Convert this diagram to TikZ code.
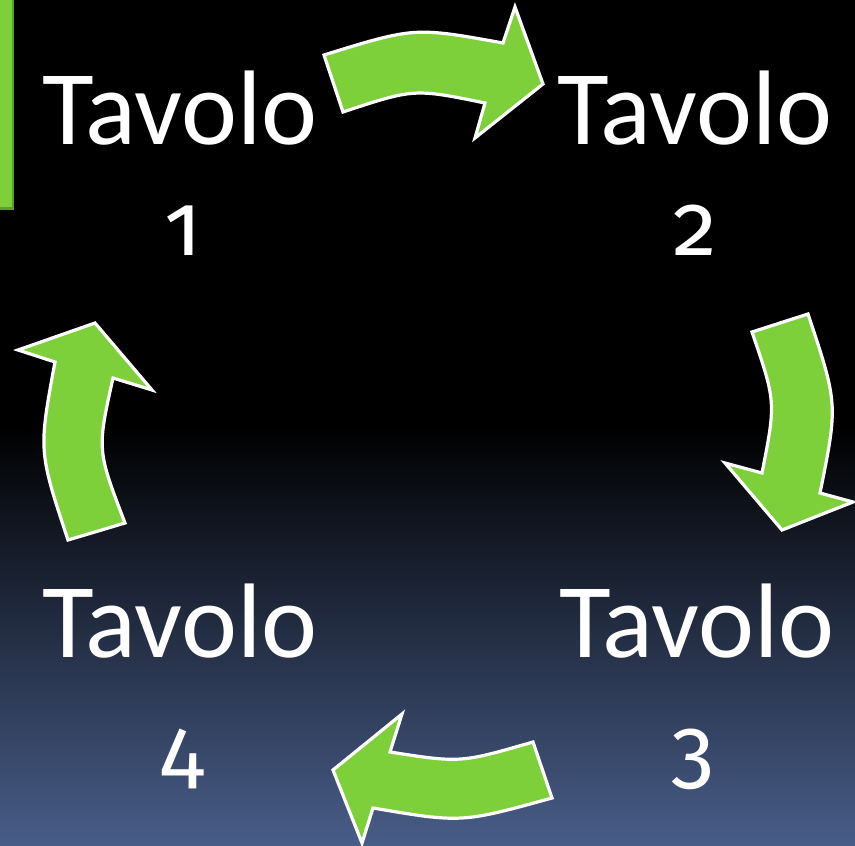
\documentclass[tikz,border=0pt]{standalone}
\usepackage{fontspec}
\setmainfont{Carlito}
\newfontfamily\numfont{Fira Sans}[Numbers=OldStyle]
\definecolor{leaf}{RGB}{126,208,59}
\definecolor{leafdark}{RGB}{94,156,44}
\definecolor{dusk}{RGB}{72,93,136}
\tikzset{
  cyclearrow/.style={fill=leaf, draw=white, line width=3.2pt, line join=miter},
  label/.style={text=white, anchor=base, inner sep=0pt, font=\fontsize{106}{106}\selectfont},
  numlabel/.style={text=white, anchor=base, inner sep=0pt, font=\numfont\fontsize{88}{88}\selectfont},
}
\begin{document}
\begin{tikzpicture}[x=1pt,y=-1pt]
% background: black, fading to slate blue towards the bottom
\fill[black] (0,0) rectangle (855,846);
\shade[top color=black, bottom color=dusk] (0,425) rectangle (855,846);
\useasboundingbox (0,0) rectangle (855,846);

% green accent bar at the upper left
\fill[leafdark] (0,0) rectangle (14,210);
\fill[leaf] (0,0) rectangle (11.5,207);

% table labels
\node[label] (t1) at (180,144) {Tavolo};
\node[numlabel] (n1) at (183,255) {1};
\node[label] (t2) at (695,144) {Tavolo};
\node[numlabel] (n2) at (695,255) {2};
\node[label] (t3) at (697,657) {Tavolo};
\node[numlabel] (n3) at (693,779) {3};
\node[label] (t4) at (180,657) {Tavolo};
\node[numlabel] (n4) at (182,779) {4};

% curved arrows running clockwise between the tables
\draw[cyclearrow] (324,55) -- (343,112) .. controls (414,88.5) .. (485,103)
  -- (475,138) -- (543,84) -- (515,7) -- (503,43)
  .. controls (414.5,27) .. cycle;
\draw[cyclearrow] (752,332) -- (808,314) .. controls (838,404) .. (820,493)
  -- (853,502) -- (782,530) -- (725,463) -- (762,473)
  .. controls (776,402) .. cycle;
\draw[cyclearrow] (533,742) -- (552,798) .. controls (461.5,823) .. (373,808)
  -- (362,843) -- (333,770) -- (402,714) -- (390,752)
  .. controls (460.5,763) .. cycle;
\draw[cyclearrow] (125,523) -- (68,540) .. controls (38.5,451) .. (55,362)
  -- (18,350) -- (95,323) -- (152,390) -- (113,378)
  .. controls (97,450) .. cycle;
\end{tikzpicture}
\end{document}
